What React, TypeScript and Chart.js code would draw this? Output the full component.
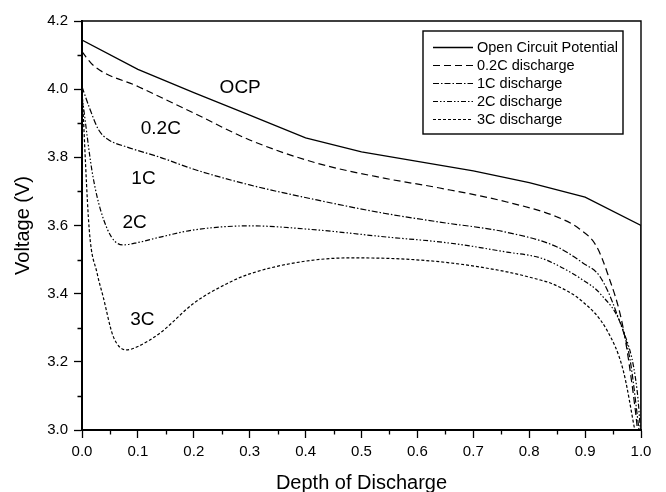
import { useEffect, useRef } from "react";
import { Chart, registerables } from "chart.js";

Chart.register(...registerables);

const FONT = "'Liberation Sans', Arial, Helvetica, sans-serif";

// Open circuit potential
const ocpX = [0, 0.1, 0.2, 0.3, 0.4, 0.5, 0.6, 0.7, 0.8, 0.9, 1.0, 1.0];
const ocpV = [4.144, 4.058, 3.99, 3.924, 3.857, 3.816, 3.788, 3.76, 3.726, 3.683, 3.6, 3.0];

// 0.2C discharge
const c02X = [0, 0.02, 0.1, 0.2, 0.3, 0.42, 0.54, 0.64, 0.76, 0.85, 0.89, 0.92, 0.94, 0.968, 0.989, 0.995];
const c02V = [4.11, 4.07, 4.008, 3.93, 3.851, 3.783, 3.739, 3.71, 3.669, 3.625, 3.59, 3.54, 3.46, 3.3, 3.07, 2.98];

// 1C discharge
const c1X = [0, 0.0125, 0.03, 0.048, 0.079, 0.14, 0.2, 0.3, 0.42, 0.54, 0.64, 0.76, 0.85, 0.896, 0.927, 0.957, 0.98, 0.998];
const c1V = [4.007, 3.949, 3.88, 3.851, 3.831, 3.8, 3.765, 3.719, 3.675, 3.636, 3.61, 3.58, 3.537, 3.49, 3.449, 3.34, 3.21, 2.98];

// 2C discharge
const c2X = [0, 0.02, 0.046, 0.073, 0.1, 0.14, 0.2, 0.3, 0.42, 0.54, 0.66, 0.76, 0.82, 0.85, 0.896, 0.927, 0.968, 0.993, 1.0];
const c2V = [3.98, 3.74, 3.587, 3.543, 3.55, 3.566, 3.587, 3.599, 3.587, 3.567, 3.548, 3.522, 3.505, 3.484, 3.44, 3.4, 3.293, 3.117, 2.98];

// 3C discharge
const c3X = [0, 0.013, 0.027, 0.038, 0.056, 0.08, 0.1, 0.14, 0.2, 0.26, 0.3, 0.39, 0.48, 0.57, 0.66, 0.76, 0.82, 0.84, 0.896, 0.939, 0.968, 0.99];
const c3V = [4.0, 3.587, 3.46, 3.39, 3.274, 3.235, 3.245, 3.285, 3.372, 3.43, 3.458, 3.493, 3.505, 3.502, 3.49, 3.464, 3.44, 3.43, 3.376, 3.293, 3.176, 2.99];

const seriesLabels = ["Open Circuit Potential", "0.2C discharge", "1C discharge", "2C discharge", "3C discharge"];

// in-plot curve labels (data coordinates)
const noteTexts = ["OCP", "0.2C", "1C", "2C", "3C"];
const noteX = [0.283, 0.141, 0.11, 0.094, 0.108];
const noteV = [4.004, 3.885, 3.737, 3.607, 3.322];

const frame = {
  id: "frame",
  afterDraw(chart: any) {
    const { ctx, chartArea: a, scales } = chart;
    ctx.save();
    ctx.strokeStyle = "#000";
    ctx.lineWidth = 1.4;
    ctx.beginPath();
    ctx.moveTo(a.left, a.top);
    ctx.lineTo(a.right, a.top);
    ctx.lineTo(a.right, a.bottom);
    ctx.stroke();
    // minor ticks
    ctx.lineWidth = 1.3;
    const xs = scales.x;
    const xt = xs.ticks;
    ctx.beginPath();
    for (let i = 0; i < xt.length - 1; i++) {
      const px = Math.round(xs.getPixelForValue((xt[i].value + xt[i + 1].value) / 2)) + 0.5;
      ctx.moveTo(px, a.bottom);
      ctx.lineTo(px, a.bottom + 4.5);
    }
    const ys = scales.y;
    const yt = ys.ticks;
    for (let i = 0; i < yt.length - 1; i++) {
      const py = Math.round(ys.getPixelForValue((yt[i].value + yt[i + 1].value) / 2)) + 0.5;
      ctx.moveTo(a.left, py);
      ctx.lineTo(a.left - 4.5, py);
    }
    ctx.stroke();

    // curve labels
    ctx.fillStyle = "#000";
    ctx.font = `19px ${FONT}`;
    ctx.textAlign = "center";
    ctx.textBaseline = "middle";
    for (let i = 0; i < noteTexts.length; i++) {
      ctx.fillText(noteTexts[i], xs.getPixelForValue(noteX[i]), ys.getPixelForValue(noteV[i]));
    }

    // legend box
    const boxL = a.right - 218;
    const boxR = a.right - 18;
    const boxT = a.top + 10;
    const boxB = a.top + 113;
    ctx.fillStyle = "#fff";
    ctx.fillRect(boxL, boxT, boxR - boxL, boxB - boxT);
    ctx.strokeStyle = "#000";
    ctx.lineWidth = 1.4;
    ctx.strokeRect(boxL, boxT, boxR - boxL, boxB - boxT);
    ctx.font = `14.5px ${FONT}`;
    ctx.textAlign = "left";
    chart.data.datasets.forEach((ds: any, i: number) => {
      const y = a.top + 26.5 + i * 18;
      ctx.save();
      ctx.strokeStyle = "#000";
      ctx.lineWidth = ds.borderWidth;
      ctx.setLineDash(ds.borderDash || []);
      ctx.beginPath();
      ctx.moveTo(boxL + 10, y);
      ctx.lineTo(boxL + 50, y);
      ctx.stroke();
      ctx.restore();
      ctx.fillStyle = "#000";
      ctx.fillText(ds.label, boxL + 54, y);
    });
    ctx.restore();
  },
};

export default function App() {
  const ref = useRef<HTMLCanvasElement>(null);
  useEffect(() => {
    const canvas = ref.current;
    if (!canvas) return;
    const mk = (label: string, xs: number[], vs: number[], dash: number[], width: number, mono: boolean) => ({
      label,
      data: xs.map((x, i) => ({ x, y: vs[i] })),
      borderColor: "#000",
      backgroundColor: "#000",
      borderWidth: width,
      borderDash: dash,
      pointRadius: 0,
      fill: false,
      tension: mono ? 0.4 : 0,
      cubicInterpolationMode: mono ? "monotone" : "default",
    });
    const chart = new Chart(canvas, {
      type: "line",
      data: {
        datasets: [
          mk(seriesLabels[0], ocpX, ocpV, [], 1.3, false),
          mk(seriesLabels[1], c02X, c02V, [7, 4], 1.2, true),
          mk(seriesLabels[2], c1X, c1V, [6, 2, 1.5, 2], 1.2, true),
          mk(seriesLabels[3], c2X, c2V, [5, 2, 1.5, 2, 1.5, 2], 1.2, true),
          mk(seriesLabels[4], c3X, c3V, [3, 2], 1.2, true),
        ] as any,
      },
      options: {
        responsive: false,
        animation: false,
        devicePixelRatio: 1,
        layout: { padding: { left: 0, top: 21, right: 25, bottom: 0 } },
        plugins: { legend: { display: false }, tooltip: { enabled: false } },
        scales: {
          x: {
            type: "linear",
            min: 0,
            max: 1,
            afterFit: (s: any) => {
              s.height = 62;
            },
            ticks: {
              stepSize: 0.1,
              color: "#000",
              font: { family: FONT, size: 15 },
              padding: 5,
              maxRotation: 0,
              autoSkip: false,
              callback: (v: any) => Number(v).toFixed(1),
            },
            grid: { display: true, drawOnChartArea: false, drawTicks: true, tickLength: 8, tickColor: "#000", tickWidth: 1.3 },
            border: { display: true, color: "#000", width: 2 },
            title: {
              display: true,
              text: "Depth of Discharge",
              color: "#000",
              font: { family: FONT, size: 20, lineHeight: 1 },
              padding: { top: 0, bottom: -1 },
            },
          },
          y: {
            type: "linear",
            min: 3,
            max: 4.2,
            afterFit: (s: any) => {
              s.width = 82;
            },
            ticks: {
              stepSize: 0.2,
              color: "#000",
              font: { family: FONT, size: 15 },
              padding: 6,
              autoSkip: false,
              callback: (v: any) => Number(v).toFixed(1),
            },
            grid: { display: true, drawOnChartArea: false, drawTicks: true, tickLength: 8, tickColor: "#000", tickWidth: 1.3 },
            border: { display: true, color: "#000", width: 2 },
            title: {
              display: true,
              text: "Voltage (V)",
              color: "#000",
              font: { family: FONT, size: 20, lineHeight: 1 },
              padding: { top: 13, bottom: 0 },
            },
          },
        },
      } as any,
      plugins: [frame],
    });
    return () => chart.destroy();
  }, []);
  return (
    <div style={{ position: "fixed", left: 0, top: 0, width: 666, height: 492, background: "#fff" }}>
      <canvas ref={ref} width={666} height={492} style={{ display: "block", width: 666, height: 492 }} />
    </div>
  );
}
